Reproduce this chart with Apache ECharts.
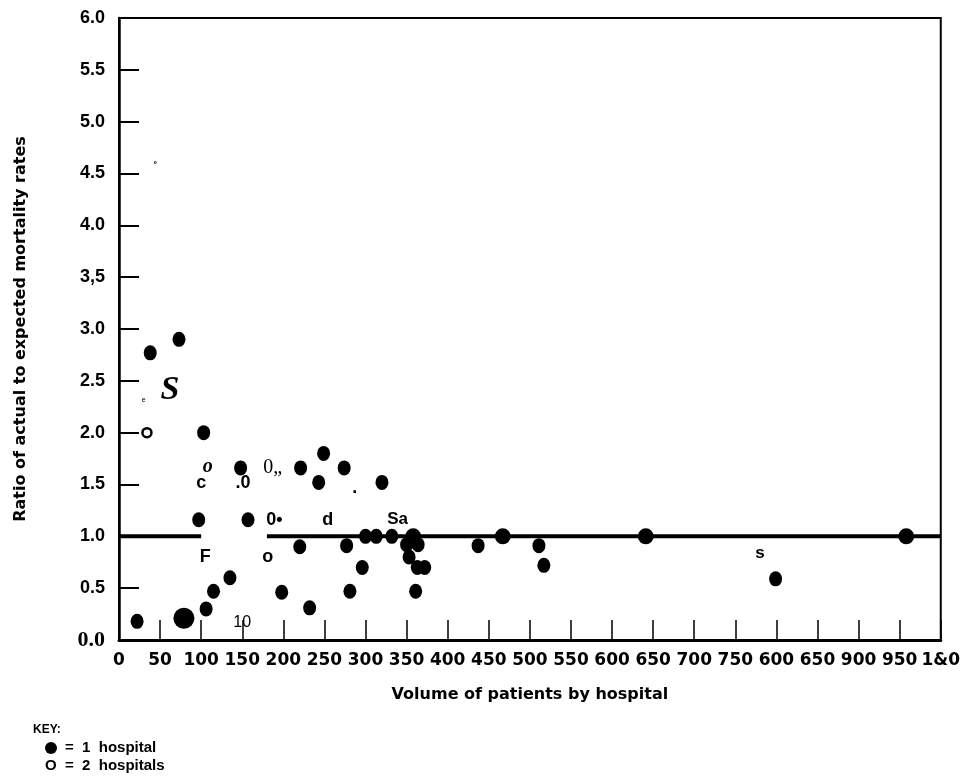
<!DOCTYPE html>
<html>
<head>
<meta charset="utf-8">
<script src="https://cdn.jsdelivr.net/npm/echarts@6/dist/echarts.min.js"></script>
<style>
html,body{margin:0;padding:0;background:#fff;}
#chart{width:963px;height:776px;}
</style>
</head>
<body>
<div id="chart"></div>
<script>
// ---- data ----
const xTickLabels = ['0','50','100','150','200','250','300','350','400','450','500','550','600','650','700','750','600','650','900','950','1&0'];
const yTickLabels = ['0.0','0.5','1.0','1.5','2.0','2.5','3.0','3,5','4.0','4.5','5.0','5.5','6.0'];

// one hospital (filled dots): volume, ratio
const oneHospitalVolume = [38, 73, 103, 148, 97, 157, 221, 249, 243, 274, 320, 220, 277, 300, 313, 332, 350, 364, 353, 363, 372, 296, 198, 281, 361, 232, 135, 115, 106, 22, 437, 511, 517, 799];
const oneHospitalRatio  = [2.77, 2.90, 2.00, 1.66, 1.16, 1.16, 1.66, 1.80, 1.52, 1.66, 1.52, 0.90, 0.91, 1.00, 1.00, 1.00, 0.92, 0.92, 0.80, 0.70, 0.70, 0.70, 0.46, 0.47, 0.47, 0.31, 0.60, 0.47, 0.30, 0.18, 0.91, 0.91, 0.72, 0.59];

// larger filled dots
const largeDotVolume = [79, 358, 467, 641, 958];
const largeDotRatio  = [0.21, 1.00, 1.00, 1.00, 1.00];

// two hospitals (open circle)
const twoHospitalVolume = [34];
const twoHospitalRatio  = [2.00];

// reference line (ratio = 1.0), drawn in two pieces
const refLineVolume = [0, 100, 140, 180, 1000];
const refLineRatio  = [1, 1, '-', 1, 1];

// stray scanned marks in the plot
const strayText   = ['º', 'S', 'e', 'o', 'c', '.0', '0„', '.', '0•', 'd', 'Sa', 'F', 'o', 's', '10', '-'];
const strayVolume = [44, 62, 30, 108, 100, 151, 187, 287, 189, 254, 339, 105, 181, 780, 150, 6];
const strayRatio  = [4.58, 2.41, 2.31, 1.67, 1.51, 1.51, 1.66, 1.47, 1.16, 1.16, 1.16, 0.80, 0.80, 0.84, 0.17, 1.49];

// ---- styles for stray marks ----
const strayStyles = [
  {fontSize: 8, fontWeight: 'bold'},
  {fontSize: 34, fontWeight: 'bold', fontFamily: 'Liberation Serif', fontStyle: 'italic'},
  {fontSize: 7},
  {fontSize: 20, fontWeight: 'bold', fontFamily: 'Liberation Serif', fontStyle: 'italic'},
  {fontSize: 18, fontWeight: 'bold'},
  {fontSize: 18, fontWeight: 'bold'},
  {fontSize: 20, fontFamily: 'Liberation Serif'},
  {fontSize: 18, fontWeight: 'bold'},
  {fontSize: 18, fontWeight: 'bold'},
  {fontSize: 18, fontWeight: 'bold'},
  {fontSize: 17, fontWeight: 'bold'},
  {fontSize: 18, fontWeight: 'bold'},
  {fontSize: 18, fontWeight: 'bold'},
  {fontSize: 17, fontWeight: 'bold'},
  {fontSize: 16, fontFamily: 'Liberation Sans'},
  {fontSize: 14, fontWeight: 'bold'}
];

const zip = (a, b) => a.map((v, i) => [v, b[i]]);

const chart = echarts.init(document.getElementById('chart'), null, {renderer: 'canvas'});
const FONT = 'Liberation Sans, Arial, sans-serif';
const WIDE = 'DejaVu Sans, sans-serif';

chart.setOption({
  backgroundColor: '#fff',
  animation: false,
  textStyle: {fontFamily: FONT, color: '#000'},
  grid: {left: 119, right: 21, top: 18, bottom: 136, show: true, borderColor: '#000', borderWidth: 2, backgroundColor: 'transparent'},
  xAxis: {
    type: 'value', min: 0, max: 1000, interval: 50,
    name: 'Volume of patients by hospital',
    nameLocation: 'middle', nameGap: 47,
    nameTextStyle: {fontSize: 16, fontWeight: 'bold', color: '#000', fontFamily: WIDE},
    axisLine: {lineStyle: {color: '#000', width: 3}},
    axisTick: {inside: true, length: 20, lineStyle: {color: '#000', width: 1.5}},
    axisLabel: {
      margin: 12, fontSize: 17, fontWeight: 'bold', color: '#000', fontFamily: WIDE,
      formatter: v => xTickLabels[Math.round(v / 50)] || ''
    },
    splitLine: {show: false}
  },
  yAxis: {
    type: 'value', min: 0, max: 6, interval: 0.5,
    name: 'Ratio of actual to expected mortality rates',
    nameLocation: 'middle', nameGap: 90, nameRotate: 90,
    nameTextStyle: {fontSize: 16, fontWeight: 'bold', color: '#000', fontFamily: WIDE},
    axisLine: {lineStyle: {color: '#000', width: 2.5}},
    axisTick: {inside: true, length: 20, lineStyle: {color: '#000', width: 2}},
    axisLabel: {
      margin: 14, fontSize: 18, fontWeight: 'bold', color: '#000', fontFamily: FONT,
      formatter: v => {
        const t = yTickLabels[Math.round(v / 0.5)] || '';
        return v === 0 ? '{serif|' + t + '}' : t;
      },
      rich: {serif: {fontFamily: 'Liberation Serif', fontSize: 22, color: '#000'}}
    },
    splitLine: {show: false}
  },
  series: [
    {
      type: 'line', data: zip(refLineVolume, refLineRatio), connectNulls: false,
      symbol: 'none', lineStyle: {color: '#000', width: 4}, z: 2
    },
    {
      type: 'scatter', data: zip(oneHospitalVolume, oneHospitalRatio),
      symbol: 'circle', symbolSize: [13, 15], itemStyle: {color: '#000', opacity: 1}, z: 3
    },
    {
      type: 'scatter', data: zip(largeDotVolume, largeDotRatio),
      symbol: 'circle', symbolSize: (v, p) => p.dataIndex === 0 ? 21 : 16,
      itemStyle: {color: '#000', opacity: 1}, z: 3
    },
    {
      type: 'scatter', data: zip(twoHospitalVolume, twoHospitalRatio),
      symbol: 'circle', symbolSize: 9,
      itemStyle: {color: '#fff', borderColor: '#000', borderWidth: 2.5, opacity: 1}, z: 4
    },
    {
      type: 'scatter', symbolSize: 0, z: 5, itemStyle: {opacity: 1, color: '#000'},
      data: strayText.map((t, i) => ({
        value: [strayVolume[i], strayRatio[i]],
        label: Object.assign({show: true, position: 'inside', formatter: t, color: '#000', opacity: 1, fontFamily: FONT}, strayStyles[i])
      }))
    }
  ],
  graphic: [
    {type: 'text', left: 33, top: 724, style: {text: 'KEY:', font: 'bold 12px "Liberation Sans", sans-serif', fill: '#000'}},
    {type: 'circle', shape: {cx: 51, cy: 748, r: 6}, style: {fill: '#000'}},
    {type: 'text', left: 65, top: 740, style: {text: '=  1  hospital', font: 'bold 15px "Liberation Sans", sans-serif', fill: '#000'}},
    {type: 'text', left: 45, top: 758, style: {text: 'O  =  2  hospitals', font: 'bold 15px "Liberation Sans", sans-serif', fill: '#000'}}
  ]
});
</script>
</body>
</html>
